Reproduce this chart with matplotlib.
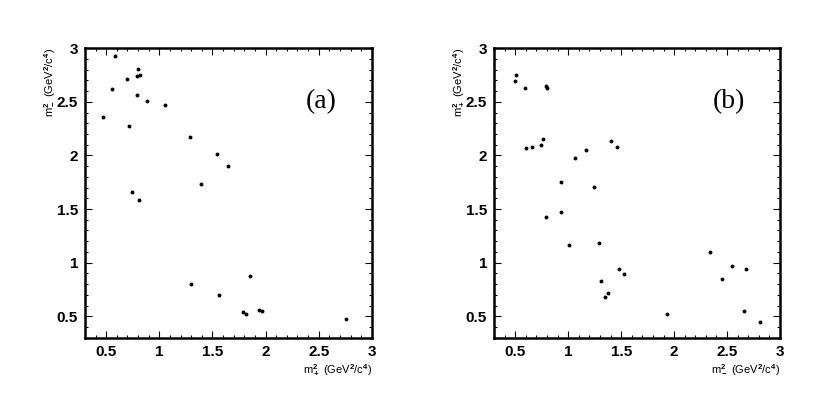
import matplotlib
matplotlib.use('Agg')
import matplotlib.pyplot as plt
from matplotlib.ticker import MultipleLocator, FuncFormatter

# panel (a): m+^2 vs m-^2
a_x = [0.47, 0.55, 0.58, 0.70, 0.71, 0.79, 0.80, 0.79, 0.82, 0.88, 1.05,
       1.29, 1.54, 1.65, 1.39, 0.74, 0.81,
       1.30, 1.56, 1.85, 1.79, 1.82, 1.94, 1.97, 2.76]
a_y = [2.36, 2.62, 2.93, 2.71, 2.27, 2.56, 2.81, 2.74, 2.75, 2.51, 2.47,
       2.17, 2.01, 1.90, 1.73, 1.66, 1.58,
       0.80, 0.70, 0.88, 0.54, 0.52, 0.56, 0.55, 0.47]

# panel (b): m-^2 vs m+^2
b_x = [0.50, 0.51, 0.59, 0.79, 0.80, 0.60, 0.66, 0.74, 0.76, 1.06, 1.17,
       1.40, 1.46, 0.93, 1.24,
       0.79, 0.93, 1.01, 1.29, 1.31, 1.35, 1.38, 1.48, 1.53, 1.93,
       2.34, 2.45, 2.55, 2.68, 2.66, 2.81]
b_y = [2.69, 2.75, 2.63, 2.65, 2.63, 2.07, 2.08, 2.10, 2.15, 1.98, 2.05,
       2.13, 2.08, 1.75, 1.71,
       1.43, 1.47, 1.16, 1.18, 0.83, 0.68, 0.72, 0.94, 0.89, 0.52,
       1.10, 0.85, 0.97, 0.94, 0.55, 0.45]

plt.rcParams['font.family'] = ['Liberation Sans', 'DejaVu Sans']
plt.rcParams['font.weight'] = 'bold'
plt.rcParams['mathtext.fontset'] = 'custom'
plt.rcParams['mathtext.rm'] = 'Liberation Sans'
plt.rcParams['mathtext.it'] = 'Liberation Sans:italic'
plt.rcParams['mathtext.bf'] = 'Liberation Sans:bold'

fig = plt.figure(figsize=(8.3, 4.19), dpi=100)
ax1 = fig.add_axes([0.1024, 0.194, 0.3455, 0.691])
ax2 = fig.add_axes([0.5952, 0.194, 0.3446, 0.691])

panels = [
    (ax1, a_x, a_y, '(a)', 'm$^2_+$ (GeV$^2$/c$^4$)', 'm$^2_-$ (GeV$^2$/c$^4$)'),
    (ax2, b_x, b_y, '(b)', 'm$^2_-$ (GeV$^2$/c$^4$)', 'm$^2_+$ (GeV$^2$/c$^4$)'),
]

for ax, x, y, tag, xl, yl in panels:
    ax.plot(x, y, 'o', color='black', markersize=2.8, markeredgewidth=0)
    ax.set_xlim(0.3, 3)
    ax.set_ylim(0.3, 3)
    for s in ax.spines.values():
        s.set_linewidth(1.8)
    ax.xaxis.set_major_locator(MultipleLocator(0.5))
    ax.yaxis.set_major_locator(MultipleLocator(0.5))
    ax.xaxis.set_minor_locator(MultipleLocator(0.1))
    ax.yaxis.set_minor_locator(MultipleLocator(0.1))
    fmt = FuncFormatter(lambda v, p: '%g' % v)
    ax.xaxis.set_major_formatter(fmt)
    ax.yaxis.set_major_formatter(fmt)
    ax.tick_params(which='both', direction='in', top=True, right=True, width=0.8)
    ax.tick_params(which='major', length=5, labelsize=11, pad=5)
    ax.tick_params(which='minor', length=2.5)
    ax.text(2.52, 2.5, tag, fontsize=20, family='Liberation Serif',
            fontweight='normal', ha='center', va='center')
    ax.text(1.0, -0.11, xl, transform=ax.transAxes, ha='right', va='center',
            fontsize=8, fontweight='normal')
    ax.text(-0.125, 1.0, yl, transform=ax.transAxes, ha='center', va='top',
            rotation=90, fontsize=8, fontweight='normal')

fig.savefig('out.png', dpi=100)
